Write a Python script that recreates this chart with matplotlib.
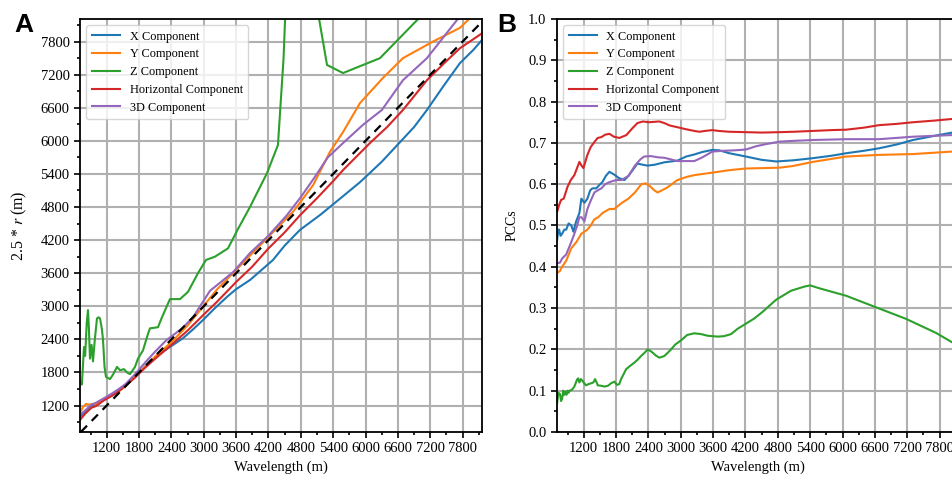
"""
plot.py  -  2.5*r vs wavelength (A) y PCCs vs wavelength (B) por componente.
"""
import numpy as np
import matplotlib; matplotlib.use("Agg"); import matplotlib.pyplot as plt
from matplotlib.ticker import MultipleLocator

plt.rcParams["font.family"] = ["Liberation Serif", "DejaVu Serif"]
plt.rcParams["mathtext.fontset"] = "stix"

LABELS = ["X Component", "Y Component", "Z Component", "Horizontal Component", "3D Component"]
COLORS = ["#1f77b4", "#ff7f0e", "#2ca02c", "#d62728", "#9467bd"]

# ---- Panel A: 2.5 * r (m) ----
a_x_wl = [705, 800, 915, 1000, 1163, 1300, 1410, 1550, 1719, 1905, 2100, 2400, 2614, 2800, 2985, 3200,
          3430, 3600, 3857, 4050, 4284, 4500, 4784, 5155, 5500, 5897, 6300, 6638, 6900, 7139, 7450,
          7751, 8000, 8160]
a_x_val = [1000, 1080, 1190, 1230, 1310, 1380, 1450, 1560, 1720, 1900, 2080, 2280, 2420, 2580, 2750, 2960,
           3170, 3310, 3476, 3640, 3840, 4100, 4385, 4654, 4930, 5250, 5620, 5975, 6250, 6560, 7000,
           7410, 7650, 7830]
a_y_wl = [705, 760, 820, 880, 940, 1000, 1060, 1120, 1163, 1250, 1410, 1550, 1719, 1905, 2100, 2400, 2700,
          3000, 3240, 3600, 3888, 4200, 4500, 4655, 4800, 5030, 5340, 5583, 5897, 6322, 6694, 7250,
          7751, 7900, 8160]
a_y_val = [1070, 1170, 1230, 1215, 1230, 1225, 1260, 1290, 1330, 1360, 1450, 1550, 1720, 1900, 2090, 2350, 2650,
           3010, 3300, 3660, 3950, 4260, 4560, 4713, 4900, 5200, 5800, 6160, 6685, 7140, 7500, 7800,
           8050, 8190, 8450]
a_z_wl = [705, 740, 779, 800, 830, 853, 870, 890, 920, 946, 980, 1020, 1050, 1076, 1100, 1113, 1131, 1160,
          1187, 1261, 1317, 1391, 1447, 1521, 1576, 1632, 1725, 1780, 1873, 1966, 2003, 2151, 2225, 2373,
          2559, 2707, 2893, 3041, 3208, 3449, 3634, 3857, 4173, 4376, 4480, 4560, 4800, 5000, 5286, 5583,
          6268, 6976, 7500, 8160]
a_z_val = [1612, 1580, 2260, 2100, 2700, 2930, 2600, 2050, 2300, 2000, 2400, 2780, 2800, 2780, 2650, 2570,
           2400, 1900, 1720, 1680, 1760, 1900, 1840, 1860, 1800, 1770, 1900, 2050, 2200, 2500, 2600, 2620,
           2800, 3130, 3130, 3260, 3600, 3840, 3900, 4050, 4400, 4800, 5415, 5925, 7500, 9500, 10500,
           9000, 7376, 7230, 7500, 8210, 8700, 9500]
a_h_wl = [705, 800, 915, 1000, 1163, 1300, 1410, 1550, 1719, 1905, 2100, 2400, 2700, 3000, 3244, 3600, 3900,
          4200, 4500, 4784, 5100, 5400, 5583, 6082, 6400, 6694, 7139, 7450, 7751, 8160]
a_h_val = [940, 1050, 1158, 1190, 1303, 1380, 1450, 1560, 1700, 1880, 2050, 2300, 2560, 2850, 3080, 3440, 3720,
           4050, 4340, 4650, 4960, 5270, 5470, 5960, 6250, 6560, 7100, 7400, 7680, 7950]
a_3d_wl = [705, 800, 915, 1000, 1163, 1300, 1410, 1550, 1719, 1905, 2100, 2312, 2450, 2600, 2800, 3115, 3545,
           3856, 4200, 4540, 4800, 5050, 5300, 5583, 5952, 6303, 6694, 7139, 7695, 8160]
a_3d_val = [1030, 1110, 1213, 1250, 1340, 1420, 1490, 1590, 1760, 1970, 2180, 2390, 2490, 2600, 2800, 3280,
            3620, 3963, 4280, 4650, 4980, 5330, 5700, 5960, 6290, 6560, 7100, 7500, 8190, 8700]

# ---- Panel B: PCCs ----
b_x_wl = [707, 730, 745, 770, 800, 840, 876, 920, 970, 1010, 1060, 1120, 1157, 1213, 1269, 1320, 1362, 1435,
          1490, 1547, 1610, 1677, 1769, 1850, 1955, 2030, 2085, 2196, 2300, 2382, 2511, 2696, 2937, 3100,
          3252, 3400, 3586, 3715, 3900, 4208, 4500, 4770, 5100, 5449, 5800, 6069, 6400, 6680, 7000, 7306,
          7700, 8034, 8160]
b_x_val = [0.465, 0.49, 0.49, 0.475, 0.48, 0.49, 0.49, 0.505, 0.5, 0.485, 0.51, 0.53, 0.565, 0.555, 0.565,
           0.585, 0.59, 0.59, 0.598, 0.605, 0.62, 0.63, 0.623, 0.615, 0.61, 0.62, 0.63, 0.65, 0.647, 0.645,
           0.647, 0.653, 0.657, 0.667, 0.672, 0.678, 0.683, 0.682, 0.675, 0.667, 0.659, 0.655, 0.658, 0.663,
           0.669, 0.675, 0.681, 0.687, 0.696, 0.707, 0.717, 0.725, 0.728]
b_y_wl = [707, 760, 800, 876, 970, 1065, 1157, 1269, 1330, 1398, 1470, 1547, 1677, 1769, 1899, 2030, 2150,
          2270, 2350, 2430, 2511, 2570, 2650, 2750, 2937, 3120, 3252, 3586, 3900, 4208, 4830, 5080, 5449,
          6069, 6680, 7306, 8034, 8160]
b_y_val = [0.385, 0.39, 0.40, 0.415, 0.445, 0.46, 0.48, 0.49, 0.5, 0.515, 0.52, 0.53, 0.54, 0.54, 0.554,
           0.565, 0.58, 0.6, 0.602, 0.595, 0.585, 0.58, 0.585, 0.592, 0.61, 0.618, 0.622, 0.628, 0.634, 0.638,
           0.640, 0.644, 0.654, 0.667, 0.671, 0.673, 0.679, 0.681]
b_z_wl = [707, 730, 760, 780, 800, 820, 840, 860, 880, 900, 920, 935, 980, 1027, 1077, 1100, 1120, 1150, 1176,
          1210, 1244, 1290, 1337, 1380, 1411, 1440, 1460, 1520, 1584, 1650, 1708, 1770, 1818, 1860, 1893,
          1940, 1986, 2060, 2140, 2200, 2264, 2330, 2387, 2440, 2480, 2540, 2603, 2650, 2696, 2760, 2820,
          2900, 3006, 3120, 3252, 3380, 3500, 3685, 3800, 3932, 4055, 4180, 4365, 4518, 4766, 5044, 5291,
          5400, 5569, 6064, 6620, 7177, 7733, 8035, 8160]
b_z_val = [0.07, 0.095, 0.092, 0.075, 0.08, 0.1, 0.09, 0.098, 0.09, 0.1, 0.095, 0.1, 0.102, 0.11, 0.127, 0.13,
           0.12, 0.128, 0.124, 0.118, 0.113, 0.116, 0.118, 0.12, 0.128, 0.12, 0.113, 0.112, 0.11, 0.112,
           0.118, 0.122, 0.114, 0.116, 0.128, 0.14, 0.152, 0.16, 0.168, 0.175, 0.184, 0.192, 0.2, 0.196,
           0.192, 0.185, 0.18, 0.182, 0.184, 0.192, 0.2, 0.212, 0.222, 0.235, 0.239, 0.237, 0.233, 0.231,
           0.232, 0.237, 0.25, 0.26, 0.275, 0.291, 0.32, 0.342, 0.352, 0.355, 0.348, 0.33, 0.302, 0.274,
           0.24, 0.217, 0.205]
b_h_wl = [707, 745, 781, 830, 898, 960, 1027, 1080, 1120, 1160, 1195, 1269, 1330, 1398, 1460, 1528, 1600,
          1677, 1760, 1862, 1992, 2100, 2196, 2300, 2400, 2511, 2600, 2696, 2800, 2937, 3100, 3252, 3345,
          3450, 3586, 3700, 3900, 4208, 4500, 4830, 5100, 5449, 5800, 6069, 6400, 6680, 7000, 7306, 7700,
          8034, 8160]
b_h_val = [0.533, 0.55, 0.562, 0.565, 0.593, 0.61, 0.622, 0.64, 0.654, 0.645, 0.639, 0.671, 0.69, 0.702,
           0.712, 0.714, 0.72, 0.722, 0.715, 0.712, 0.719, 0.735, 0.748, 0.752, 0.75, 0.751, 0.752, 0.748,
           0.742, 0.738, 0.733, 0.729, 0.727, 0.729, 0.731, 0.729, 0.727, 0.726, 0.725, 0.726, 0.727,
           0.729, 0.731, 0.732, 0.737, 0.743, 0.746, 0.75, 0.754, 0.758, 0.76]
b_3d_wl = [707, 760, 800, 876, 970, 1027, 1080, 1120, 1160, 1213, 1269, 1330, 1398, 1460, 1528, 1600, 1677,
           1800, 1899, 2030, 2150, 2250, 2320, 2450, 2580, 2696, 2937, 3100, 3252, 3400, 3586, 3800, 4000,
           4208, 4400, 4580, 4830, 5100, 5449, 6069, 6680, 7306, 8034, 8160]
b_3d_val = [0.409, 0.41, 0.42, 0.43, 0.46, 0.48, 0.5, 0.52, 0.52, 0.51, 0.54, 0.56, 0.58, 0.585, 0.59, 0.6,
            0.605, 0.61, 0.61, 0.62, 0.645, 0.66, 0.667, 0.668, 0.665, 0.664, 0.656, 0.656, 0.656, 0.665,
            0.679, 0.681, 0.682, 0.684, 0.692, 0.697, 0.703, 0.705, 0.707, 0.709, 0.709, 0.715, 0.719, 0.72]

WL_LIM = (705, 8160)
R_LIM = (720, 8210)


def style_axes(ax):
    ax.grid(True, which="major", color="#b0b0b0", lw=1.5)
    ax.set_axisbelow(True)
    ax.xaxis.set_major_locator(MultipleLocator(600)); ax.xaxis.set_minor_locator(MultipleLocator(300))
    ax.tick_params(which="major", length=4, width=1.2, labelsize=10.5, direction="out")
    ax.tick_params(which="minor", length=2.5, width=1.2, direction="out")
    for s in ax.spines.values(): s.set_linewidth(1.3)
    ax.set_xlim(*WL_LIM)
    ax.set_xlabel("Wavelength (m)", fontsize=10.5)
    ax.legend(loc="upper left", fontsize=8.8, framealpha=0.8, edgecolor="#cccccc", handlelength=2.3,
              borderpad=0.45, labelspacing=0.47, fancybox=True)


def main():
    fig = plt.figure(figsize=(9.53, 4.83), dpi=100)
    ax_a = fig.add_axes([80/953, 51/483, 402/953, 413/483])
    ax_b = fig.add_axes([557/953, 51/483, 402/953, 413/483])

    a_series = [(a_x_wl, a_x_val), (a_y_wl, a_y_val), (a_z_wl, a_z_val), (a_h_wl, a_h_val), (a_3d_wl, a_3d_val)]
    b_series = [(b_x_wl, b_x_val), (b_y_wl, b_y_val), (b_z_wl, b_z_val), (b_h_wl, b_h_val), (b_3d_wl, b_3d_val)]

    for (wl, v), lab, c in zip(a_series, LABELS, COLORS):
        ax_a.plot(wl, v, color=c, lw=1.5, label=lab)
    ax_a.axline((0, 0), slope=1, color="black", ls="--", lw=1.6, dashes=(4, 3))
    ax_a.set_ylim(*R_LIM)
    ax_a.yaxis.set_major_locator(MultipleLocator(600)); ax_a.yaxis.set_minor_locator(MultipleLocator(300))
    ax_a.set_ylabel("2.5 * $r$ (m)", fontsize=11.5, labelpad=8)
    style_axes(ax_a)

    for (wl, v), lab, c in zip(b_series, LABELS, COLORS):
        ax_b.plot(wl, v, color=c, lw=1.5, label=lab)
    ax_b.set_ylim(0, 1.0)
    ax_b.yaxis.set_major_locator(MultipleLocator(0.1)); ax_b.yaxis.set_minor_locator(MultipleLocator(0.05))
    ax_b.set_ylabel("PCCs", fontsize=10, labelpad=7)
    style_axes(ax_b)

    fig.text(14/953, 1 - 13/483, "A", fontsize=19, fontweight="bold", family="Liberation Sans", va="top")
    fig.text(497/953, 1 - 13/483, "B", fontsize=19, fontweight="bold", family="Liberation Sans", va="top")
    fig.savefig("out.png", dpi=100)
    plt.close(fig)


if __name__ == "__main__":
    main()
